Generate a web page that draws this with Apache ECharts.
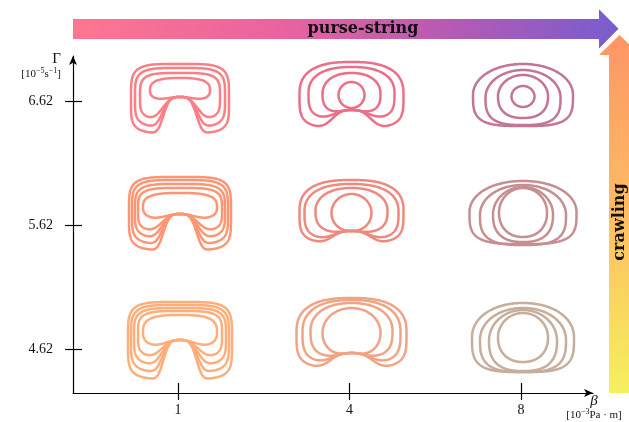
<!DOCTYPE html>
<html><head><meta charset="utf-8">
<script src="https://cdn.jsdelivr.net/npm/echarts@6/dist/echarts.min.js"></script>
<style>html,body{margin:0;padding:0;background:#fff}#c{width:629px;height:422px}</style>
</head><body><div id="c"></div>
<script>
// ---- data ----
const betaLabels = ['1', '4', '8'];          // β [10^-3 Pa·m]  (x categories)
const gammaValues = [4.62, 5.62, 6.62];       // Γ [10^-5 s^-1]  (y values)

// wound contours of each (β, Γ) cell, outer -> inner
// [halfWidth, top, bottom, nTop, nBottom, notchHalfWidth, notchPower]
const wound_b1_g662 = [[49,-37,32,4.4,4.8,18,4],[45,-33,26,4.2,4.4,19,3.5],[40,-28,19,4,4,20,3],[30,-23,2,2.8,2.6,21,2.2]];
const wound_b1_g562 = [[51,-48,25,4.6,4.8,18,4],[48,-45,19,4.4,4.6,19,3.6],[45,-41,13,4.2,4.3,20,3.2],[42,-37,7,4,4,21,2.8],[37,-32,-3,3,2.6,22,2.2]];
const wound_b1_g462 = [[52,-47,30,4.6,4.8,18,4],[49,-44,23,4.4,4.6,19,3.6],[46,-41,16,4.2,4.3,20,3.2],[42,-38,9,4,4,21,2.8],[37,-34,1,3,2.6,22,2.2]];
const wound_b4_g662 = [[52,-39,27,2.6,4,22,3],[43,-34,19,2.4,3.5,22,2.5],[29,-28,14,2.2,2.8,18,2],[13,-19,7,2,2,10,2]];
const wound_b4_g562 = [[52,-45,18,2.6,4,22,3],[47,-41,15,2.4,3.5,22,2.5],[36,-37,9,2.2,2.8,18,2],[20,-31,7,2,2,12,2]];
const wound_b4_g462 = [[55,-51,19,2.6,4,24,3],[49,-49,15,2.4,3.5,24,2.5],[41,-46,10,2.2,3,20,2],[29,-41,8,2,2.2,14,2]];
const wound_b8_g662 = [[50,-37,25,2.05,3.5,0,2],[37.5,-31,24,2,3,0,2],[25,-26,17,2,2.4,0,2],[11.5,-15,6,2,2,0,2]];
const wound_b8_g562 = [[53.5,-44,19,2.1,3.5,0,2],[43,-40,20,2.05,3,0,2],[30,-38,17,2,2.5,0,2],[24,-37,12,2,2.2,0,2]];
const wound_b8_g462 = [[51,-46,23,2.1,3.5,0,2],[43,-41,23,2.05,3,0,2],[34,-39,22,2,2.6,0,2],[25,-36,13,2,2.2,0,2]];
// level where the contours meet at the bottom obstacle, per Γ (4.62, 5.62, 6.62)
const notchTop_b1 = [-9, -11, -4];
const notchTop_b4 = [4, 6, 9];
const notchTop_b8 = [null, null, null];

// ---- styles ----
const glyphColors = {
  '6.62': ['#fc7f86', '#ec6f88', '#c27594'],
  '5.62': ['#fe9674', '#ef897f', '#c58f92'],
  '4.62': ['#feae7a', '#f0a486', '#c7ad9c']
};

const woundByBeta = [
  [wound_b1_g462, wound_b1_g562, wound_b1_g662],
  [wound_b4_g462, wound_b4_g562, wound_b4_g662],
  [wound_b8_g462, wound_b8_g562, wound_b8_g662]
];
const notchByBeta = [notchTop_b1, notchTop_b4, notchTop_b8];

const cells = [];
const seriesData = [];
betaLabels.forEach((b, bi) => {
  gammaValues.forEach((g, gi) => {
    cells.push({contours: woundByBeta[bi][gi], notch: notchByBeta[bi][gi], color: glyphColors[g.toFixed(2)][bi]});
    seriesData.push([bi, g, cells.length - 1]);
  });
});

function quadrant(a, b, n, N) { // from (0,b) to (a,0)
  const pts = [];
  const us = Math.pow(0.5, 1 / n);
  for (let i = 0; i <= N; i++) { const u = us * i / N; pts.push([a * u, b * Math.pow(1 - Math.pow(u, n), 1 / n)]); }
  for (let i = N - 1; i >= 0; i--) { const w = us * i / N; pts.push([a * Math.pow(1 - Math.pow(w, n), 1 / n), b * w]); }
  return pts;
}

function contourPoints(cx, cy, sc, row, notchTop) {
  const [hw, top, bot, nT, nB, nw, p] = row;
  const y0 = (top + bot) / 2, ryT = y0 - top, ryB = bot - y0;
  const depth = notchTop == null ? 0 : Math.max(0, bot - notchTop);
  const qT = quadrant(hw, ryT, nT, 40), qB = quadrant(hw, ryB, nB, 80);
  const shift = 2;
  const out = [];
  const push = (x, y) => out.push([cx + (x + shift) * sc, cy + y * sc]);
  const notch = (x, y, f) => {
    if (depth > 0) {
      const B = Math.exp(-Math.pow(Math.abs(x) / nw, p));
      y -= depth * B * Math.pow(Math.max(0, f), 0.3);
    }
    return y;
  };
  qT.forEach(([x, y]) => push(x, y0 - y));
  for (let i = qB.length - 1; i >= 0; i--) { const [x, y] = qB[i]; push(x, notch(x, y0 + y, y / ryB)); }
  for (let i = 1; i < qB.length; i++) { const [x, y] = qB[i]; push(-x, notch(-x, y0 + y, y / ryB)); }
  for (let i = qT.length - 2; i >= 1; i--) { const [x, y] = qT[i]; push(-x, y0 - y); }
  return out;
}

const chart = echarts.init(document.getElementById('c'), null, {renderer: 'canvas'});
const serif = '"Liberation Serif", "DejaVu Serif", serif';
const axisLineStyle = {show: true, onZero: false, lineStyle: {color: '#000', width: 1.2}, symbol: ['none', 'arrow'], symbolSize: [6, 9]};
const xMin = -0.6122, xMax = 2.4198, yMin = 4.2652, yMax = 6.9829;
const tickIdx = [0, 1, 2];
const unitRich = {
  u: {fontFamily: serif, fontSize: 11, lineHeight: 13, color: '#111', verticalAlign: 'bottom'},
  s: {fontFamily: serif, fontSize: 8, lineHeight: 9, color: '#111', verticalAlign: 'top'}
};

chart.setOption({
  animation: false,
  backgroundColor: '#fff',
  grid: {left: 73, top: 56, width: 520, height: 337, containLabel: false, outerBoundsMode: 'none'},
  xAxis: [
    {
      type: 'value', min: xMin, max: xMax, position: 'bottom',
      axisLine: axisLineStyle, splitLine: {show: false},
      axisTick: {show: true, inside: false, length: 7, customValues: tickIdx, lineStyle: {color: '#000', width: 1.2}},
      axisLabel: {customValues: tickIdx, formatter: v => betaLabels[Math.round(v)], margin: 10, fontFamily: serif, fontSize: 14, color: '#111'},
      name: '{b|β}\n{u|[10}{s|−3}{u|Pa · m]}', nameLocation: 'end', nameGap: 1,
      nameTextStyle: {align: 'center', verticalAlign: 'top', padding: [2, 0, 0, 0],
        rich: Object.assign({b: {fontFamily: serif, fontStyle: 'italic', fontSize: 15, lineHeight: 13, color: '#111', align: 'center'}}, unitRich)}
    },
    {type: 'value', min: xMin, max: xMax, position: 'bottom', axisLine: {show: false, onZero: false}, splitLine: {show: false},
     axisTick: {show: true, inside: true, length: 10, customValues: tickIdx, lineStyle: {color: '#000', width: 1.2}},
     axisLabel: {show: false}}
  ],
  yAxis: [
    {
      type: 'value', min: yMin, max: yMax, position: 'left',
      axisLine: axisLineStyle, splitLine: {show: false},
      axisTick: {show: true, inside: false, length: 8, customValues: gammaValues, lineStyle: {color: '#000', width: 1.2}},
      axisLabel: {customValues: gammaValues, formatter: v => v.toFixed(2), margin: 20, fontFamily: serif, fontSize: 14, color: '#111'},
      name: '{g|Γ}\n{u|[10}{s|−5}{u|s}{s|−1}{u|]}', nameLocation: 'end', nameGap: 4,
      nameTextStyle: {align: 'right', verticalAlign: 'top', padding: [0, 12, 0, 0],
        rich: Object.assign({g: {fontFamily: serif, fontSize: 15, lineHeight: 15, color: '#111', align: 'right'}}, unitRich)}
    },
    {type: 'value', min: yMin, max: yMax, position: 'left', axisLine: {show: false, onZero: false}, splitLine: {show: false},
     axisTick: {show: true, inside: true, length: 9, customValues: gammaValues, lineStyle: {color: '#000', width: 1.2}},
     axisLabel: {show: false}}
  ],
  series: [{
    type: 'custom',
    coordinateSystem: 'cartesian2d',
    xAxisIndex: 0, yAxisIndex: 0,
    silent: true,
    clip: false,
    data: seriesData,
    renderItem: function (params, api) {
      const bi = api.value(0), g = api.value(1), k = api.value(2);
      const c = api.coord([bi, g]);
      const sc = api.size([0, 1])[1] / 124;
      const cell = cells[k];
      return {
        type: 'group',
        children: cell.contours.map(row => ({
          type: 'polygon',
          shape: {points: contourPoints(c[0], c[1], sc, row, cell.notch)},
          style: {fill: 'none', stroke: cell.color, lineWidth: 2.5, lineJoin: 'round'}
        }))
      };
    }
  }],
  graphic: [
    {type: 'polygon', silent: true,
     shape: {points: [[73, 19], [599, 19], [599, 9.3], [618.5, 28.8], [599, 48.5], [599, 39], [73, 39]]},
     style: {fill: new echarts.graphic.LinearGradient(0, 0, 1, 0, [
       {offset: 0, color: '#fe7690'}, {offset: 0.4, color: '#e862a0'}, {offset: 0.68, color: '#b85ab4'}, {offset: 1, color: '#785dcc'}])}},
    {type: 'polygon', silent: true,
     shape: {points: [[609, 393], [609, 55], [599, 55], [619.5, 35], [640, 55], [630, 55], [630, 393]]},
     style: {fill: new echarts.graphic.LinearGradient(0, 0, 0, 1, [
       {offset: 0, color: '#fe9566'}, {offset: 0.5, color: '#fdbd61'}, {offset: 1, color: '#f6f05e'}])}},
    {type: 'text', silent: true, x: 363, y: 29,
     style: {text: 'purse-string', font: 'bold 16px "DejaVu Serif"', fill: '#111', align: 'center', verticalAlign: 'middle', textAlign: 'center', textVerticalAlign: 'middle'}},
    {type: 'text', silent: true, x: 620, y: 222, rotation: Math.PI / 2,
     style: {text: 'crawling', font: 'bold 16px "DejaVu Serif"', fill: '#111', align: 'center', verticalAlign: 'middle', textAlign: 'center', textVerticalAlign: 'middle'}}
  ]
});
</script></body></html>
